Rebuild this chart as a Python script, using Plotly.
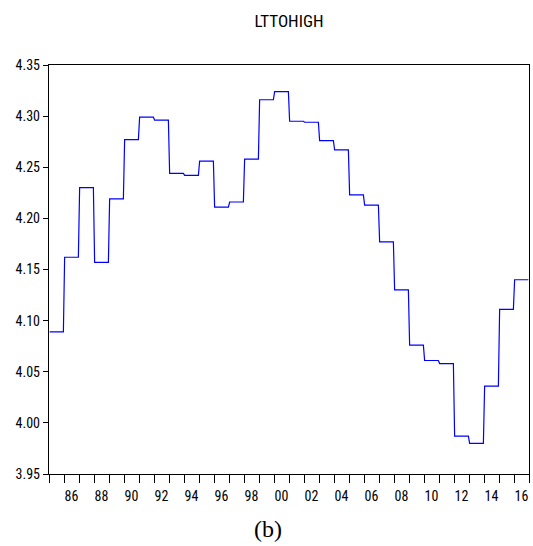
import plotly.graph_objects as go

years = list(range(1985, 2017))
values = [4.089, 4.162, 4.230, 4.157, 4.219, 4.277, 4.299, 4.296,
          4.244, 4.242, 4.256, 4.211, 4.216, 4.258, 4.316, 4.324,
          4.295, 4.294, 4.276, 4.267, 4.223, 4.213, 4.177, 4.130,
          4.076, 4.061, 4.058, 3.987, 3.980, 4.036, 4.111, 4.140]
title = "LTTOHIGH"
caption = "(b)"

# monthly observations (each year's value held for its 12 months)
xs, ys = [], []
for yr, v in zip(years, values):
    for m in range(12):
        xs.append(yr + (m + 0.5) / 12)
        ys.append(v)

label_years = [y for y in years if y % 2 == 0]
label_pos = [y + 0.5 for y in label_years]
label_txt = [f"{y % 100:02d}" for y in label_years]

fig = go.Figure()
fig.add_trace(go.Scatter(x=xs, y=ys, mode="lines",
                         line=dict(color="#0000ff", width=1.2),
                         hoverinfo="skip", showlegend=False))
# invisible trace to activate label axis
fig.add_trace(go.Scatter(x=[years[0], years[-1] + 1], y=[values[0], values[0]],
                         xaxis="x2", mode="lines", line=dict(width=0),
                         opacity=0, hoverinfo="skip", showlegend=False))

narrow = "Liberation Sans Narrow, Arial Narrow, Roboto Condensed, DejaVu Sans Condensed, Liberation Sans, Arial"
tickfont = dict(family=narrow, size=14, color="black")

fig.update_layout(
    width=533, height=546,
    margin=dict(l=49, r=4, t=65, b=72, autoexpand=False),
    paper_bgcolor="white", plot_bgcolor="white",
    title=dict(text=title, x=(49 + 529) / 2 / 533, xanchor="center",
               y=1 - 21 / 546, yanchor="middle",
               font=dict(family=narrow, size=17, color="black")),
    xaxis=dict(range=[years[0], years[-1] + 1], tickmode="linear", tick0=years[0], dtick=1,
               ticks="outside", ticklen=8, tickwidth=1, tickcolor="black",
               showticklabels=False, showgrid=False, zeroline=False, automargin=False,
               showline=True, linecolor="black", linewidth=1.3, mirror=True),
    xaxis2=dict(overlaying="x", side="bottom", range=[years[0], years[-1] + 1],
                tickmode="array", tickvals=label_pos, ticktext=label_txt,
                ticks="", showgrid=False, zeroline=False, showline=False, automargin=False,
                tickfont=tickfont, ticklabelstandoff=12),
    yaxis=dict(range=[3.95, 4.35], tickmode="linear", tick0=3.95, dtick=0.05,
               tickformat=".2f", ticks="outside", ticklen=5, tickwidth=1, tickcolor="black",
               showgrid=False, zeroline=False, tickfont=tickfont, automargin=False,
               showline=True, linecolor="black", linewidth=1.3, mirror=True),
    annotations=[dict(text=caption, xref="paper", yref="paper",
                      x=(268 - 49) / 480, y=-(529 - 474) / 410, xanchor="center", yanchor="middle",
                      showarrow=False,
                      font=dict(family="Liberation Serif, Times New Roman, serif", size=24, color="black"))],
)

fig.write_html("out.html", config={"displayModeBar": False},
               post_script="document.body.style.margin='0';document.body.style.overflow='hidden';")
